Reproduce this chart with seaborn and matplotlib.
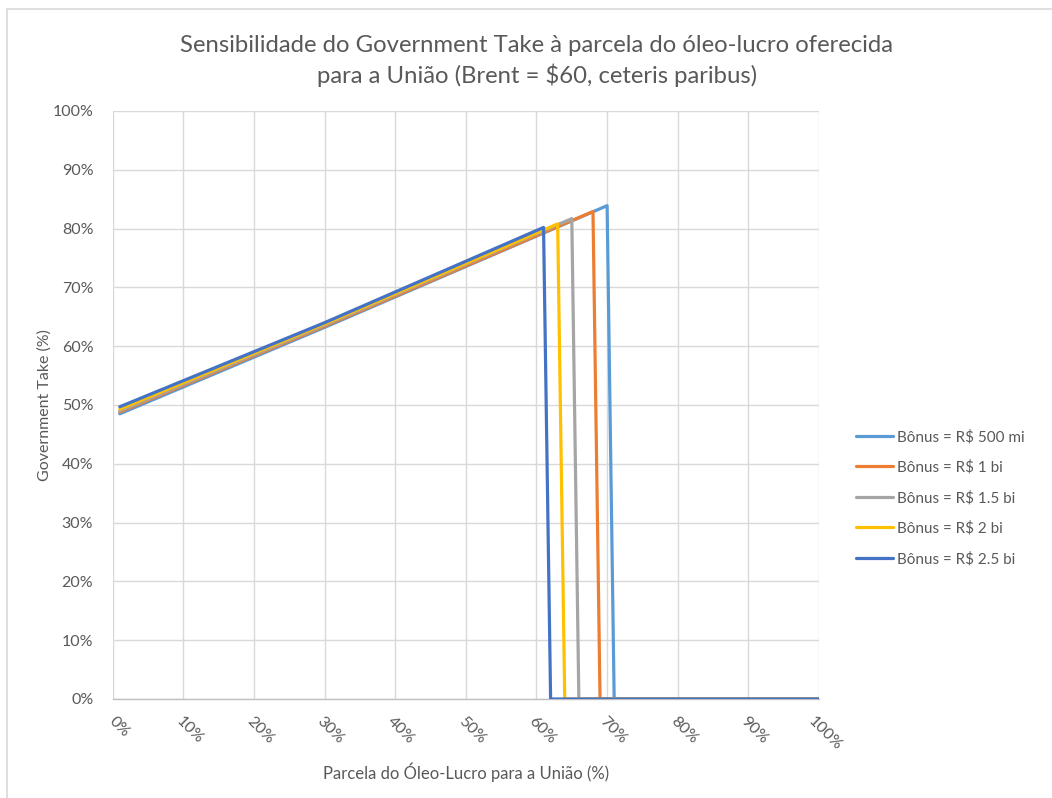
import matplotlib
matplotlib.use("Agg")
import matplotlib.pyplot as plt
import matplotlib.transforms as mtransforms
from matplotlib.lines import Line2D
from matplotlib.ticker import FuncFormatter
import pandas as pd
import seaborn as sns

# Government Take (%) vs. profit-oil share offered to the Union (%), one series per signature bonus
series_names = ["Bônus = R$ 500 mi", "Bônus = R$ 1 bi", "Bônus = R$ 1.5 bi",
                "Bônus = R$ 2 bi", "Bônus = R$ 2.5 bi"]

share_500mi = [1, 30, 70, 71, 100]
take_500mi = [48.5, 63.2, 83.9, 0, 0]

share_1bi = [1, 30, 68, 69, 100]
take_1bi = [48.8, 63.4, 82.9, 0, 0]

share_1_5bi = [1, 30, 65, 66, 100]
take_1_5bi = [49.0, 63.6, 81.7, 0, 0]

share_2bi = [1, 30, 63, 64, 100]
take_2bi = [49.3, 63.8, 80.8, 0, 0]

share_2_5bi = [1, 30, 61, 62, 100]
take_2_5bi = [49.7, 64.0, 80.2, 0, 0]

line_colors = ["#5B9BD5", "#ED7D31", "#A5A5A5", "#FFC000", "#4472C4"]

x_ticks = list(range(0, 101, 10))
y_ticks = list(range(0, 101, 10))

shares = [share_500mi, share_1bi, share_1_5bi, share_2bi, share_2_5bi]
takes = [take_500mi, take_1bi, take_1_5bi, take_2bi, take_2_5bi]

rows = []
for name, xs, ys in zip(series_names, shares, takes):
    for x, y in zip(xs, ys):
        rows.append({"share": x, "take": y, "serie": name})
df = pd.DataFrame(rows)

sns.set_theme(style="white")
plt.rcParams["font.family"] = ["Lato", "DejaVu Sans"]

text_color = "#595959"
grid_color = "#D9D9D9"

fig = plt.figure(figsize=(10.52, 7.98), dpi=100)
W, H = 1052, 798
ax = fig.add_axes([112.7 / W, 1 - 699 / H, (819 - 112.7) / W, (699 - 111) / H])

sns.lineplot(data=df, x="share", y="take", hue="serie", hue_order=series_names,
             palette=line_colors, estimator=None, sort=False, linewidth=2.3,
             ax=ax, legend=False, zorder=3)

ax.set_xlim(0, 100)
ax.set_ylim(0, 100)
ax.set_xticks(x_ticks)
ax.set_yticks(y_ticks)
pct = FuncFormatter(lambda v, p: f"{v:.0f}%")
ax.xaxis.set_major_formatter(pct)
ax.yaxis.set_major_formatter(pct)

ax.grid(True, color=grid_color, linewidth=1.0, zorder=0)
for side in ["top", "right", "left"]:
    ax.spines[side].set_visible(False)
ax.spines["bottom"].set_color("#BFBFBF")
ax.spines["bottom"].set_linewidth(1.0)
ax.spines["bottom"].set_zorder(2)

ax.tick_params(axis="both", length=0, colors=text_color, labelsize=11.5)
ax.tick_params(axis="y", pad=14)
ax.tick_params(axis="x", pad=11)
offset = mtransforms.ScaledTranslation(6 / 100, 0, fig.dpi_scale_trans)
for lbl in ax.get_xticklabels():
    lbl.set_rotation(-45)
    lbl.set_ha("center")
    lbl.set_va("top")
    lbl.set_transform(lbl.get_transform() + offset)

ax.set_xlabel("Parcela do Óleo-Lucro para a União (%)", color=text_color, fontsize=12)
ax.xaxis.set_label_coords(0.5, -0.124)
ax.xaxis.label.set_va("center")
ax.set_ylabel("Government Take (%)", color=text_color, fontsize=11.5)
ax.yaxis.set_label_coords(-0.096, 0.5)
ax.yaxis.label.set_va("center")

fig.text(537 / W, 1 - 61 / H,
         "Sensibilidade do Government Take à parcela do óleo-lucro oferecida\n"
         "para a União (Brent = $60, ceteris paribus)",
         ha="center", va="center", fontsize=17.2, color=text_color, linespacing=1.42)

handles = [Line2D([0], [0], color=c, linewidth=2.3) for c in line_colors]
fig.legend(handles, series_names, loc="center left",
           bbox_to_anchor=(856 / W, 1 - 498 / H), frameon=False,
           fontsize=11, labelcolor=text_color, handlelength=2.4,
           handletextpad=0.3, labelspacing=1.05, borderaxespad=0, borderpad=0)

# light chart-area frame along the top and left edges
fig.add_artist(Line2D([7 / W, 1], [1 - 9 / H, 1 - 9 / H], transform=fig.transFigure,
                      color=grid_color, linewidth=1.2))
fig.add_artist(Line2D([7 / W, 7 / W], [0, 1 - 9 / H], transform=fig.transFigure,
                      color=grid_color, linewidth=1.2))

fig.savefig("out.png", dpi=100, facecolor="white")
